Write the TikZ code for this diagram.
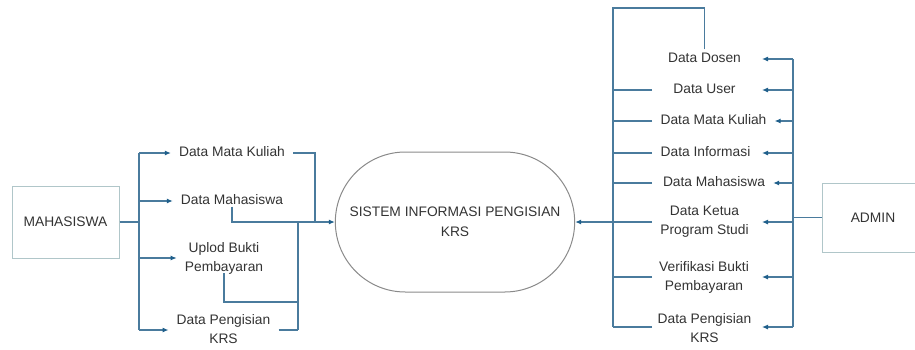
\documentclass[tikz,border=0pt]{standalone}
\usepackage{fontspec}
\setmainfont{Liberation Sans}
\usetikzlibrary{arrows.meta,shapes.misc}
\definecolor{linec}{HTML}{4A7B9D}
\definecolor{tipc}{HTML}{1F5F8B}
\definecolor{boxc}{HTML}{B0C6C9}
\definecolor{sysc}{HTML}{8A8A8A}
\definecolor{txtc}{HTML}{333333}
\tikzset{
  lblbase/.style={inner xsep=8pt,inner ysep=3pt,align=center,text=txtc,font=\fontsize{13.8}{19}\selectfont},
  lbl/.style={lblbase,text height=10pt,text depth=3pt},
  lbltwo/.style={lblbase},
  entity/.style={draw=boxc,line width=1pt,text=txtc,font=\fontsize{13.8}{19}\selectfont},
  flow/.style={draw=linec,line width=1.1pt},
  arr/.style={flow,-{Latex[length=6pt,width=5pt,color=tipc]}},
}
\begin{document}
\begin{tikzpicture}[x=1pt,y=-1pt]
\useasboundingbox (0,0) rectangle (915,349);
% entities
\node[entity,minimum width=107pt,minimum height=72pt] (mhs) at (65.5,222) {MAHASISWA};
\node[entity,minimum width=102pt,minimum height=69pt] (adm) at (873,217.5) {ADMIN};
\node[draw=sysc,line width=1pt,rounded rectangle,minimum width=246pt,minimum height=140pt,align=center,text=txtc,font=\fontsize{13.8}{20}\selectfont] (sys) at (455,222) {SISTEM INFORMASI PENGISIAN\\KRS};
% left labels
\node[lbl] (l1) at (232,153) {Data Mata Kuliah};
\node[lbl] (l2) at (232,201) {Data Mahasiswa};
\node[lbltwo] (l3) at (224,258) {Uplod Bukti\\Pembayaran};
\node[lbltwo] (l4) at (223.5,329) {Data Pengisian\\KRS};
% right labels
\node[lbl] (r1) at (704.5,59) {Data Dosen};
\node[lbl] (r2) at (704.5,90) {Data User};
\node[lbl] (r3) at (713.5,121) {Data Mata Kuliah};
\node[lbl] (r4) at (705.5,153) {Data Informasi};
\node[lbl] (r5) at (714,183) {Data Mahasiswa};
\node[lbltwo] (r6) at (704.5,222) {Data Ketua\\Program Studi};
\node[lbltwo] (r7) at (704,277) {Verifikasi Bukti\\Pembayaran};
\node[lbltwo] (r8) at (704.5,328) {Data Pengisian\\KRS};
% coordinates
\coordinate (lt1) at (139,153);
\coordinate (lt4) at (139,330);
\coordinate (c1) at (315,222);
\coordinate (t2a) at (298,222);
\coordinate (t2b) at (298,330);
\coordinate (t2c) at (298,302);
\coordinate (rtop) at (613,8);
\coordinate (rbot) at (613,327);
\coordinate (rx) at (652,0);
\coordinate (ax) at (762,0);
\coordinate (at1) at (793,59);
\coordinate (at2) at (793,327);
% left side flows
\draw[flow] (lt1) -- (lt4);
\draw[flow] (mhs.east) -- (mhs.east -| lt1);
\draw[arr] (lt1) -- (l1.west);
\draw[arr] (lt1 |- l2.west) -- (l2.west);
\draw[arr] (lt1 |- l3.west) -- (l3.west);
\draw[arr] (lt4) -- (l4.west |- lt4);
\draw[flow] (l1.east) -| (c1);
\draw[arr] ([yshift=4pt]l2.south) |- (sys.west);
\draw[flow] (t2a) -- (t2b);
\draw[flow] ([yshift=4pt]l3.south) |- (t2c);
\draw[flow] (l4.east |- t2b) -- (t2b);
% right side flows into system
\draw[flow] (r1.north) |- (rtop) -- (rbot);
\draw[flow] (r2.west -| rx) -- (r2.west -| rtop);
\draw[flow] (r3.west -| rx) -- (r3.west -| rtop);
\draw[flow] (r4.west -| rx) -- (r4.west -| rtop);
\draw[flow] (r5.west -| rx) -- (r5.west -| rtop);
\draw[flow] (r6.west -| rx) -- (r6.west -| rtop);
\draw[flow] (r7.west -| rx) -- (r7.west -| rtop);
\draw[flow] (rbot -| rx) -- (rbot);
\draw[arr] (sys.east -| rtop) -- (sys.east);
% admin flows
\draw[flow] (adm.west) -- (adm.west -| at1);
\draw[flow] (at1) -- (at2);
\draw[arr] (at1) -- (r1.east -| ax);
\draw[arr] (at1 |- r2.east) -- (r2.east -| ax);
\draw[arr] (at1 |- r3.east) -- (r3.east);
\draw[arr] (at1 |- r4.east) -- (r4.east -| ax);
\draw[arr] (at1 |- r5.east) -- (r5.east);
\draw[arr] (at1 |- r6.east) -- (r6.east -| ax);
\draw[arr] (at1 |- r7.east) -- (r7.east -| ax);
\draw[arr] (at2) -- (at2 -| ax);
\end{tikzpicture}
\end{document}
